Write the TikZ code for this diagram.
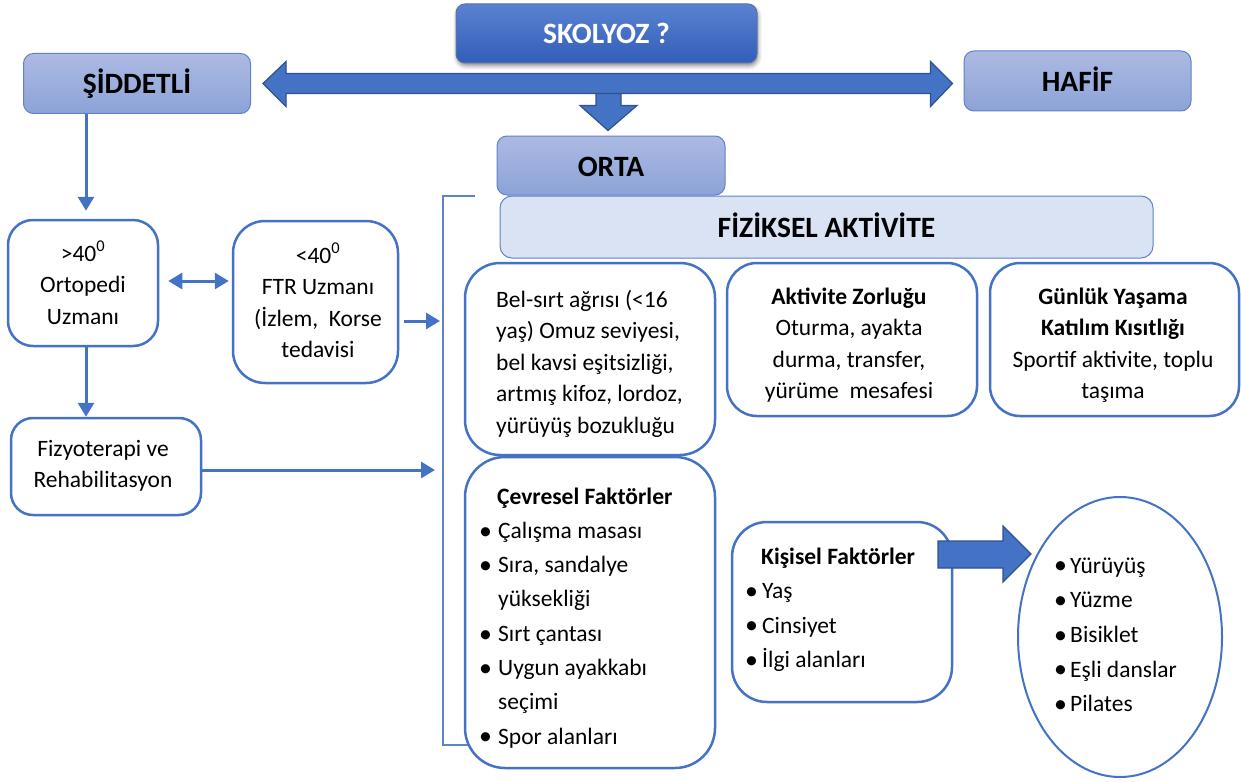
\documentclass[tikz,border=0pt]{standalone}
\usepackage{fontspec}
\setmainfont{Carlito}
\usetikzlibrary{calc,arrows.meta,shapes.geometric,shadows.blur}

\definecolor{accent}{RGB}{68,114,196}
\definecolor{accentdark}{RGB}{47,82,143}
\definecolor{edge}{RGB}{96,130,200}
\definecolor{pale}{RGB}{218,227,243}
\definecolor{tintA}{RGB}{172,186,227}
\definecolor{tintB}{RGB}{140,163,215}
\definecolor{deepA}{RGB}{90,130,210}
\definecolor{deepB}{RGB}{50,94,184}

% slightly enlarged bullet in a slot of fixed width
\newcommand\bul[1][15pt]{\makebox[#1][l]{\hspace*{1pt}\raisebox{-0.8pt}{\scalebox{1.1}{\textbullet}}}}

\begin{document}
\begin{tikzpicture}[x=1pt,y=-1pt,
  titlebox/.style={draw=edge, line width=1pt, rounded corners=10pt,
    top color=tintA, bottom color=tintB, inner sep=0pt,
    text height=21pt, text depth=0pt,
    font=\fontsize{29.5}{34}\selectfont\bfseries},
  card/.style={draw=accent, line width=2.5pt, fill=white, inner sep=0pt},
  tx/.style={inner sep=0pt, font=\fontsize{23.5}{31.5}\selectfont},
  link/.style={draw=accent, line width=3pt, -{Triangle[length=14pt,width=16pt]}},
  twolink/.style={draw=accent, line width=3pt,
    {Triangle[length=14pt,width=16pt]}-{Triangle[length=14pt,width=16pt]}},
  blockarrow/.style={fill=accent, draw=accentdark, line width=1.2pt, line join=miter},
  bracket/.style={draw=edge, line width=1.3pt}
]
\useasboundingbox (0,0) rectangle (1241,781);

% ---- severity levels ----
\node[titlebox, draw=accentdark!80, top color=deepA, bottom color=deepB, text=white,
      rounded corners=9pt, minimum width=301pt, minimum height=59pt,
      blur shadow={shadow xshift=1pt, shadow yshift=-3pt, shadow blur radius=4pt, shadow opacity=45}]
      (sko) at (606.5,33.5) {SKOLYOZ ?};
\node[titlebox, minimum width=227pt, minimum height=60pt] (sid) at (137,83.5) {ŞİDDETLİ};
\node[titlebox, minimum width=227pt, minimum height=60pt] (haf) at (1077.5,81) {HAFİF};
\node[titlebox, minimum width=228pt, minimum height=59pt] (orta) at (611,165.5) {ORTA};
\node[titlebox, fill=pale, top color=pale, bottom color=pale, rounded corners=12pt,
      minimum width=653pt, minimum height=62pt] (fiz) at (826.5,227) {FİZİKSEL AKTİVİTE};

% block arrows between the levels
\coordinate (dl) at ([xshift=12pt]sid.east);
\coordinate (dr) at ([xshift=-11pt]haf.west |- dl);
\coordinate (dt) at ([xshift=-3pt,yshift=5pt]orta.north);
\draw[blockarrow] (dt) -- ($(dt)+(-28,-25)$) -- ($(dt)+(-12,-25)$) -- ($(dt)+(-12,-40)$)
  -- ($(dt)+(13,-40)$) -- ($(dt)+(13,-25)$) -- ($(dt)+(29,-25)$) -- cycle;
\draw[blockarrow] (dl) -- ($(dl)+(23,-22)$) -- ($(dl)+(23,-10)$) -- ($(dr)+(-22,-10)$)
  -- ($(dr)+(-22,-22)$) -- (dr) -- ($(dr)+(-22,23)$) -- ($(dr)+(-22,10)$)
  -- ($(dl)+(23,10)$) -- ($(dl)+(23,23)$) -- cycle;

% ---- left column: referral path ----
\node[card, rounded corners=25pt, minimum width=150pt, minimum height=126pt] (orto) at (83,283) {};
\node[card, rounded corners=32pt, minimum width=165pt, minimum height=162pt] (ftr) at (315.5,302) {};
\node[card, rounded corners=22pt, minimum width=190pt, minimum height=97pt] (fizyo) at (106,466.5) {};

\node[tx, anchor=base] (ortoT) at (83,261)
  {\parbox[t]{150pt}{\centering >40\textsuperscript{0}\\Ortopedi\\Uzmanı}};
\node[tx, anchor=base] (ftrT) at (318,263)
  {\parbox[t]{165pt}{\centering <40\textsuperscript{0}\\FTR Uzmanı\\(İzlem,\ \ Korse\\tedavisi}};
\node[tx, anchor=base] (fizyoT) at (103,456)
  {\parbox[t]{190pt}{\centering Fizyoterapi ve\\Rehabilitasyon}};

% bracket gathering the moderate-case factors
\coordinate (bt) at (475,196);
\coordinate (bl) at (443,196);
\coordinate (bb) at (443,745);
\coordinate (be) at (475,745);
\draw[bracket] (bt) -- (bl) -- (bb) -- (be);

\draw[link, shorten >=8pt] ([xshift=-51pt]sid.south) -- ([xshift=3pt]orto.north);
\draw[link] ([xshift=3pt]orto.south) -- ([xshift=3pt]orto.south |- fizyo.north);
\draw[twolink, shorten <=9pt, shorten >=3pt] ([yshift=2pt]orto.east) -- ([yshift=2pt]orto.east -| ftr.west);
\draw[link, shorten <=5pt, shorten >=3pt] ([yshift=-19pt]ftr.east) -- ([yshift=-19pt]ftr.east -| bl);
\draw[link, shorten >=8pt] ([yshift=-3.5pt]fizyo.east) -- ([yshift=-3.5pt]fizyo.east -| bl);

% ---- physical activity factors ----
\node[card, rounded corners=35pt, minimum width=250pt, minimum height=192pt] (bel) at (590,359) {};
\node[card, rounded corners=30pt, minimum width=250pt, minimum height=153pt] (akt) at (852,339.5) {};
\node[card, rounded corners=30pt, minimum width=249pt, minimum height=153pt] (gun) at (1114.5,339.5) {};
\node[card, rounded corners=40pt, minimum width=250pt, minimum height=311pt] (cev) at (590,612.5) {};
\node[card, rounded corners=35pt, minimum width=220pt, minimum height=180pt] (kis) at (842,612) {};
\node[card, line width=2pt, ellipse, minimum width=204pt, minimum height=280pt] (spor) at (1120,637) {};

\node[tx, anchor=base west] (belT) at (496,307)
  {\parbox[t]{215pt}{\raggedright Bel-sırt ağrısı (<16\\yaş) Omuz seviyesi,\\bel kavsi eşitsizliği,\\artmış kifoz, lordoz,\\yürüyüş bozukluğu}};
\node[tx, anchor=base] (aktT) at (849,304)
  {\parbox[t]{240pt}{\centering \textbf{Aktivite Zorluğu}\\Oturma, ayakta\\durma, transfer,\\yürüme\ \ mesafesi}};
\node[tx, anchor=base] (gunT) at (1113,304)
  {\parbox[t]{245pt}{\centering \textbf{Günlük Yaşama}\\\textbf{Katılım Kısıtlığı}\\Sportif aktivite, toplu\\taşıma}};
\node[tx, font=\fontsize{23.5}{34.3}\selectfont, anchor=base west] (cevT) at (478,504)
  {\parbox[t]{230pt}{\raggedright \hspace*{19pt}\textbf{Çevresel Faktörler}\\
   \bul[20pt]Çalışma masası\\
   \bul[20pt]Sıra, sandalye\\
   \hspace*{20pt}yüksekliği\\
   \bul[20pt]Sırt çantası\\
   \bul[20pt]Uygun ayakkabı\\
   \hspace*{20pt}seçimi\\
   \bul[20pt]Spor alanları}};
\node[tx, font=\fontsize{23.5}{34.5}\selectfont, anchor=base west] (kisT) at (744,564)
  {\parbox[t]{200pt}{\raggedright \hspace*{17pt}\textbf{Kişisel Faktörler}\\
   \bul[18pt]Yaş\\
   \bul[18pt]Cinsiyet\\
   \bul[18pt]İlgi alanları}};
\node[tx, font=\fontsize{23.5}{34.7}\selectfont, anchor=base west] (sporT) at (1053,573)
  {\parbox[t]{160pt}{\raggedright
   \bul[17pt]Yürüyüş\\
   \bul[17pt]Yüzme\\
   \bul[17pt]Bisiklet\\
   \bul[17pt]Eşli danslar\\
   \bul[17pt]Pilates}};

% block arrow from personal factors to the suggested sports
\coordinate (kt) at (1031,554);
\draw[blockarrow] (kt) -- ($(kt)+(-28,-28)$) -- ($(kt)+(-28,-13)$) -- ($(kt)+(-93,-13)$)
  -- ($(kt)+(-93,14)$) -- ($(kt)+(-28,14)$) -- ($(kt)+(-28,28)$) -- cycle;
\end{tikzpicture}
\end{document}
